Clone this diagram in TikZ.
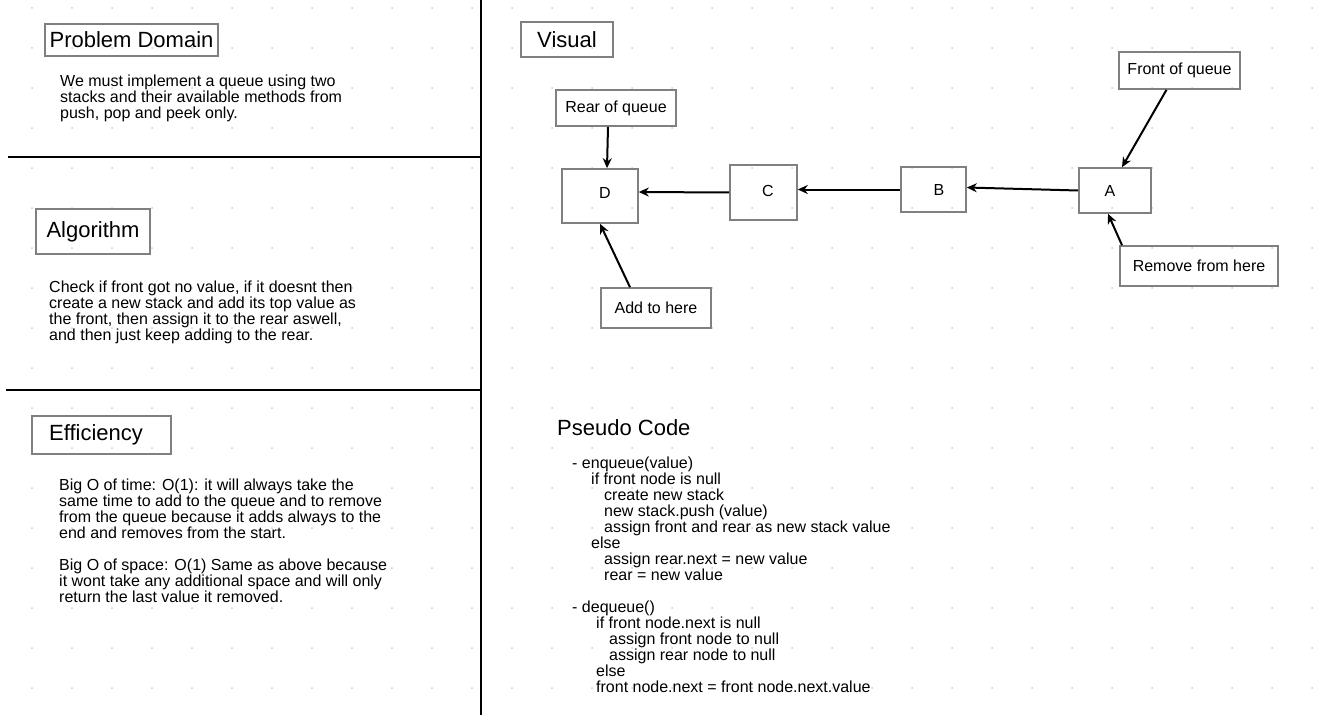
\documentclass[tikz,border=0pt]{standalone}
\usepackage{fontspec}
\setmainfont{Liberation Sans}
\usetikzlibrary{arrows.meta}
\definecolor{boxgray}{RGB}{128,128,128}
\definecolor{dotgray}{RGB}{205,205,205}

\begin{document}
\begin{tikzpicture}[x=1pt,y=-1pt,
  box/.style={draw=boxgray,line width=1.6pt,inner sep=0pt,font=\fontsize{16}{16}\selectfont},
  title/.style={draw=boxgray,line width=1.6pt,inner sep=0pt,font=\fontsize{22}{22}\selectfont},
  body/.style={align=left,inner sep=0pt,anchor=base west,font=\fontsize{16}{16}\selectfont},
  link/.style={line width=2pt,-{Stealth[length=10pt,width=9pt]}},
  divider/.style={line width=1.8pt}]
\useasboundingbox (0,0) rectangle (1339,725);
\foreach \x in {32,72,...,1312} {\foreach \y in {8,48,...,688} {\fill[dotgray] (\x,\y) circle (1pt);}}
\draw[divider] (481,0)--(481,715);\draw[divider] (8,157)--(481,157);\draw[divider] (6,390)--(481,390);
% left column (body nodes sit on their last baseline)
\node[title,minimum width=173,minimum height=32] (domain) at (131.5,40) {Problem Domain};
\node[body] (domaintext) at (60,118) {We must implement a queue using two\\stacks and their available methods from\\push, pop and peek only.};
\node[title,minimum width=114,minimum height=45] (algo) at (93,231.5) {Algorithm};
\node[body] (algotext) at (49,340) {Check if front got no value, if it doesnt then\\create a new stack and add its top value as\\the front, then assign it to the rear aswell,\\and then just keep adding to the rear.};
\node[title,minimum width=139,minimum height=38] (eff) at (101.5,435) {Efficiency\kern11pt};
\node[body] (efftext) at (59,602) {Big O of time: O(1): it will always take the\\same time to add to the queue and to remove\\from the queue because it adds always to the\\end and removes from the start.\\[16pt]Big O of space: O(1) Same as above because\\it wont take any additional space and will only\\return the last value it removed.};
% visual
\node[title,minimum width=92,minimum height=35] (visual) at (567,39.5) {Visual};
\node[box,minimum width=76,minimum height=54] (d) at (600,196) {\kern10pt\raisebox{6pt}{D}};
\node[box,minimum width=67,minimum height=55] (c) at (763.5,192.5) {\kern9pt\raisebox{3pt}{C}};
\node[box,minimum width=65,minimum height=45] (b) at (933.5,189.5) {\kern11pt B};
\node[box,minimum width=72,minimum height=45] (a) at (1115,190.5) {A\kern10pt};
\node[box,minimum width=120,minimum height=36] (rear) at (616,108) {Rear of queue};
\node[box,minimum width=121,minimum height=37] (front) at (1179.5,70.5) {Front of queue};
\node[box,minimum width=158,minimum height=40] (remove) at (1199,266) {Remove from here};
\node[box,minimum width=110,minimum height=40] (add) at (656,308) {Add to here};
\draw[link] ([xshift=-8pt]rear.south)--([xshift=7pt]d.north);
\draw[link] (c.west)--([yshift=4pt]d.east);
\draw[link] (b.west)--([yshift=3pt]c.east);
\draw[link] (a.west)--([yshift=2pt]b.east);
\draw[link] ([xshift=-13pt]front.south)--([xshift=7pt]a.north);
\draw[link] ([xshift=-77pt]remove.north)--([xshift=-7pt]a.south);
\draw[link] ([xshift=-26pt]add.north)--(d.south);
% pseudo code
\node[anchor=base west,inner sep=0pt,font=\fontsize{22}{22}\selectfont] (pseudo) at (557,435) {Pseudo Code};
\node[body] (pseudotext) at (572,692) {- enqueue(value)\\
\hspace*{19pt}if front node is null\\
\hspace*{32pt}create new stack\\
\hspace*{32pt}new stack.push (value)\\
\hspace*{32pt}assign front and rear as new stack value\\
\hspace*{19pt}else\\
\hspace*{32pt}assign rear.next = new value\\
\hspace*{32pt}rear = new value\\[16pt]
- dequeue()\\
\hspace*{24pt}if front node.next is null\\
\hspace*{37pt}assign front node to null\\
\hspace*{37pt}assign rear node to null\\
\hspace*{24pt}else\\
\hspace*{24pt}front node.next = front node.next.value};
\end{tikzpicture}
\end{document}
